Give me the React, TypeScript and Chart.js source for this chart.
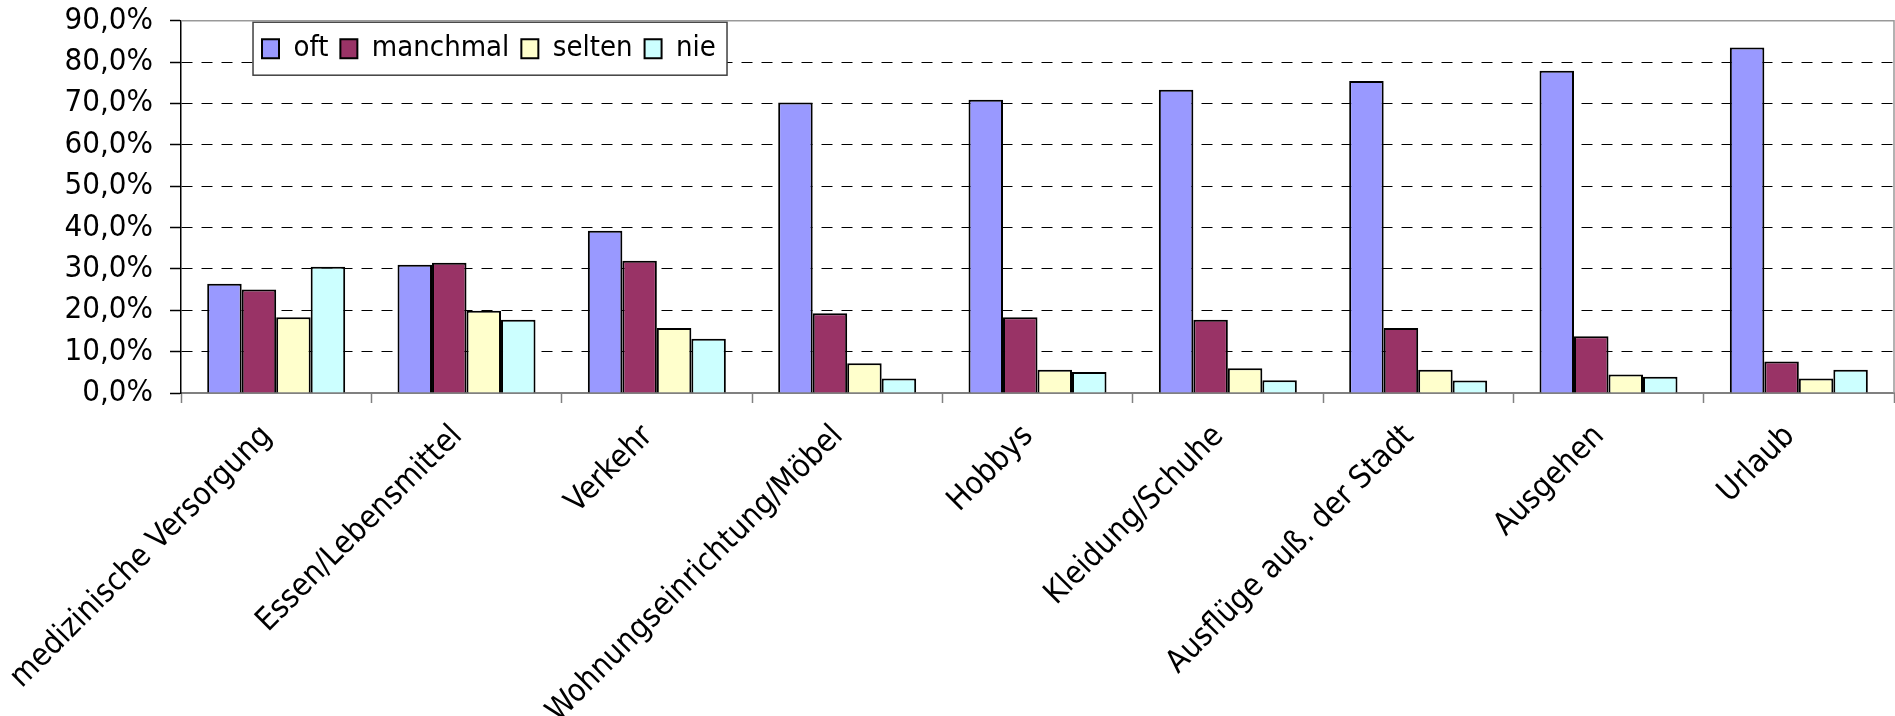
import React, { useEffect, useRef } from 'react';
import { Chart, registerables } from 'chart.js';

Chart.register(...registerables);

const categories = [
  'medizinische Versorgung',
  'Essen/Lebensmittel',
  'Verkehr',
  'Wohnungseinrichtung/Möbel',
  'Hobbys',
  'Kleidung/Schuhe',
  'Ausflüge auß. der Stadt',
  'Ausgehen',
  'Urlaub',
];
const seriesNames = ['oft', 'manchmal', 'selten', 'nie'];
const oft = [26.4, 31.0, 39.2, 70.2, 70.9, 73.3, 75.4, 77.9, 83.5];
const manchmal = [25.0, 31.5, 32.0, 19.3, 18.3, 17.7, 15.7, 13.7, 7.6];
const selten = [18.3, 19.9, 15.7, 7.2, 5.6, 6.0, 5.6, 4.5, 3.5];
const nie = [30.5, 17.7, 13.1, 3.5, 5.1, 3.1, 3.0, 3.9, 5.6];
const seriesColors = ['#9999FF', '#993366', '#FFFFCC', '#CCFFFF'];
const yMin = 0;
const yMax = 90;
const yStep = 10;

const FONT = "'DejaVu Sans Condensed', 'DejaVu Sans', sans-serif";
const W = 1895;
const H = 716;
const LEGEND_FONT = 29;
const LEGEND_PAD = 12;

const framePlugin = {
  id: 'frameAndLegend',
  beforeLayout(chart: any) {
    const lg = chart.legend;
    if (lg && !lg._patched) {
      lg._patched = true;
      const origDraw = lg.draw.bind(lg);
      lg.draw = function (...args: any[]) {
        const b = chart._legendBox;
        if (b) {
          const ctx = chart.ctx;
          ctx.save();
          ctx.fillStyle = '#ffffff';
          ctx.fillRect(b.left, b.top, b.w, b.h);
          ctx.strokeStyle = '#404040';
          ctx.lineWidth = 1.5;
          ctx.strokeRect(b.left, b.top, b.w, b.h);
          ctx.restore();
        }
        origDraw(...args);
      };
    }
  },
  afterLayout(chart: any) {
    const lg = chart.legend;
    const a = chart.chartArea;
    if (!lg || !a) return;
    const box = { left: a.left + 72, top: a.top + 1.5, w: 474, h: 53 };
    chart._legendBox = box;
    lg.left = box.left + 9 - LEGEND_PAD;
    lg.right = box.left + box.w + 120;
    lg.top = box.top + box.h / 2 - LEGEND_FONT / 2 - LEGEND_PAD;
    lg.bottom = box.top + box.h;
    lg.width = lg.right - lg.left;
    lg.height = lg.bottom - lg.top;
  },
  beforeDatasetsDraw(chart: any) {
    const { ctx, chartArea: a } = chart;
    ctx.save();
    ctx.strokeStyle = '#999999';
    ctx.lineWidth = 1.5;
    ctx.beginPath();
    ctx.moveTo(a.left, a.top);
    ctx.lineTo(a.right, a.top);
    ctx.lineTo(a.right, a.bottom);
    ctx.stroke();
    ctx.restore();
  },
};

export default function App() {
  const ref = useRef<HTMLCanvasElement | null>(null);

  useEffect(() => {
    if (!ref.current) return;
    const values = [oft, manchmal, selten, nie];
    const chart = new Chart(ref.current, {
      type: 'bar',
      data: {
        labels: categories,
        datasets: seriesNames.map((name, i) => ({
          label: name,
          data: values[i],
          backgroundColor: seriesColors[i],
          borderColor: '#000000',
          borderWidth: 2,
          barPercentage: 1,
          categoryPercentage: 0.725,
        })),
      },
      options: {
        animation: false,
        responsive: true,
        maintainAspectRatio: false,
        layout: { padding: { left: 0, right: 1, top: 19.7, bottom: 0 } },
        plugins: {
          tooltip: { enabled: false },
          legend: {
            display: true,
            position: 'top',
            align: 'start',
            maxHeight: 1,
            labels: {
              boxWidth: 17,
              boxHeight: 19,
              padding: LEGEND_PAD,
              color: '#000',
              font: { family: FONT, size: LEGEND_FONT },
            },
          },
        },
        scales: {
          x: {
            offset: true,
            grid: {
              offset: true,
              drawOnChartArea: false,
              drawTicks: true,
              tickLength: 10,
              tickColor: '#808080',
              tickWidth: 1.5,
            },
            border: { display: true, color: '#808080', width: 2 },
            ticks: {
              autoSkip: false,
              maxRotation: 45,
              minRotation: 45,
              padding: 15,
              labelOffset: -9,
              color: '#000',
              font: { family: FONT, size: 31.5 },
            },
            afterFit: (s: any) => {
              s.height = H - 393;
            },
          },
          y: {
            min: yMin,
            max: yMax,
            ticks: {
              stepSize: yStep,
              padding: 17,
              color: '#000',
              font: { family: FONT, size: 31 },
              callback: (v: any) => Number(v).toFixed(1).replace('.', ',') + '%',
            },
            grid: {
              color: (c: any) =>
                c.tick && c.tick.value > yMin && c.tick.value < yMax ? '#000000' : 'rgba(0,0,0,0)',
              lineWidth: 1,
              tickLength: 11,
              tickColor: '#000000',
              tickWidth: 1.5,
              tickBorderDash: [],
            },
            border: { display: true, color: '#000000', width: 1.5, dash: [11, 9] },
            afterFit: (s: any) => {
              s.width = 178;
              s.paddingTop = 0;
              s.paddingBottom = 0;
            },
          },
        },
      },
      plugins: [framePlugin],
    } as any);
    return () => chart.destroy();
  }, []);

  return (
    <div
      style={{
        position: 'fixed',
        left: 0,
        top: 0,
        width: W,
        height: H,
        background: '#ffffff',
      }}
    >
      <canvas ref={ref} />
    </div>
  );
}
